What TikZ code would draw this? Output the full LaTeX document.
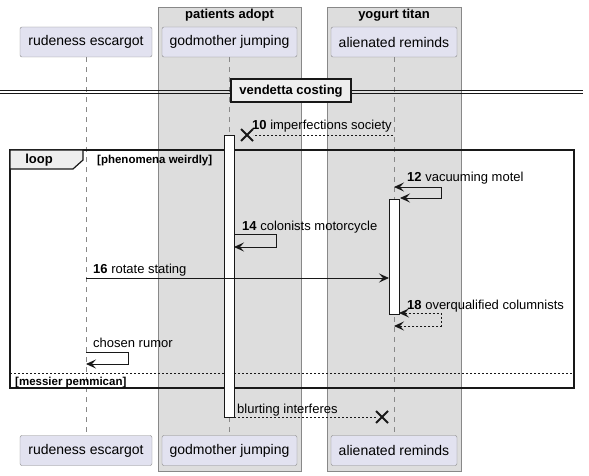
\documentclass[tikz,border=0pt]{standalone}
\usepackage{fontspec}
\setmainfont{Liberation Sans}
\usetikzlibrary{arrows.meta, positioning, shapes.misc}
\definecolor{actfill}{HTML}{E2E2F0}
\definecolor{boxfill}{HTML}{DDDDDD}
\definecolor{tabfill}{HTML}{EEEEEE}
\definecolor{edge}{HTML}{888888}
\definecolor{ink}{HTML}{181818}

\begin{document}
\begin{tikzpicture}[x=1pt,y=-1pt,>={Stealth[length=10pt,width=9pt,inset=4pt]},
  actor/.style={draw=edge,fill=actfill,rounded corners=2pt,minimum height=30pt,inner sep=0pt,
    font=\fontsize{14}{16}\selectfont},
  grpbox/.style={draw=edge,fill=boxfill},
  grptitle/.style={inner sep=0pt,font=\fontsize{13}{15}\selectfont\bfseries},
  lifeline/.style={draw=edge,dash pattern=on 5pt off 5pt},
  actbar/.style={draw=ink,fill=white,line width=0.9pt},
  msg/.style={draw=ink,line width=0.9pt},
  reply/.style={msg,dash pattern=on 2pt off 2pt},
  label/.style={inner sep=0pt,anchor=base west,font=\fontsize{13}{15}\selectfont},
  kill/.style={draw=ink,cross out,line width=2pt,minimum size=10pt,inner sep=0pt},
  guard/.style={inner sep=0pt,anchor=base west,font=\fontsize{11.5}{13}\selectfont\bfseries}]
  \useasboundingbox (0,0) rectangle (589,476);

  % boxes
  \draw[grpbox] (158,7) rectangle (301,471);
  \draw[grpbox] (327,7) rectangle (461,471);
  \node[grptitle] (pa) at (229.5,15) {patients adopt};
  \node[grptitle] (yt) at (394,15) {yogurt titan};

  % participants
  \node[actor, minimum width=132pt] (re) at (86,42) {rudeness escargot};
  \node[actor, minimum width=135pt] (gj) at (229.5,42) {godmother jumping};
  \node[actor, minimum width=126pt] (ar) at (394,42) {alienated reminds};
  \node[actor, minimum width=132pt] (re2) at (86,450.5) {rudeness escargot};
  \node[actor, minimum width=135pt] (gj2) at (229.5,450.5) {godmother jumping};
  \node[actor, minimum width=126pt] (ar2) at (394,450.5) {alienated reminds};
  \draw[lifeline] (re) -- (re2);
  \draw[lifeline] (gj) -- (gj2);
  \draw[lifeline] (ar) -- (ar2);

  % divider
  \draw[ink] (0,90) -- (583,90) (0,93) -- (583,93);
  \node[draw=ink,fill=tabfill,line width=2pt,minimum width=120pt,minimum height=23pt,
    inner sep=0pt,font=\fontsize{13}{15}\selectfont\bfseries] (vc) at (291,91) {vendetta costing};

  % loop frame
  \draw[ink,line width=1.5pt] (10,150) rectangle (574,388);
  \draw[ink,line width=1.2pt,fill=tabfill] (10,150) -- (83,150) -- (83,160) -- (73,169) -- (10,169) -- cycle;
  \node[grptitle] (lp) at (39,160) {loop};
  \node[guard] (g1) at (97,164) {[phenomena weirdly]};
  \draw[ink,dash pattern=on 2pt off 2pt] (10,373) -- (574,373);
  \node[guard] (g2) at (15,385) {[messier pemmican]};

  % activations
  \draw[actbar] (224,135) rectangle (234,417);
  \draw[actbar] (389,199) rectangle (399,314);

  % messages
  \coordinate (m10) at (393,135);
  \node[kill] (x10) at (247,135) {};
  \draw[reply] (m10) -- (x10);
  \node[label] at (252,130) {\textbf{10} imperfections society};

  \coordinate (m12a) at (394,187);
  \coordinate (m12b) at (400,198);
  \draw[msg,<->] (m12a) -- (441,187) -- (441,198) -- (m12b);
  \node[label] at (407,182) {\textbf{12} vacuuming motel};

  \coordinate (m14a) at (234,234);
  \coordinate (m14b) at (234,247);
  \draw[msg,->] (m14a) -- (276,234) -- (276,247) -- (m14b);
  \node[label] at (242,230) {\textbf{14} colonists motorcycle};

  \coordinate (m16a) at (86,278);
  \coordinate (m16b) at (389,278);
  \draw[msg,->] (m16a) -- (m16b);
  \node[label] at (93,273) {\textbf{16} rotate stating};

  \coordinate (m18a) at (399,313);
  \coordinate (m18b) at (394,326);
  \draw[reply,<->] (m18a) -- (441,313) -- (441,326) -- (m18b);
  \node[label] at (407,309) {\textbf{18} overqualified columnists};

  \coordinate (mcra) at (86,352);
  \coordinate (mcrb) at (86,364);
  \draw[msg,->] (mcra) -- (128,352) -- (128,364) -- (mcrb);
  \node[label] at (93,347) {chosen rumor};

  \coordinate (mbi) at (234,417);
  \node[kill] (xbi) at (382,417) {};
  \draw[reply] (mbi) -- (xbi);
  \node[label] at (237,413) {blurting interferes};
\end{tikzpicture}
\end{document}
